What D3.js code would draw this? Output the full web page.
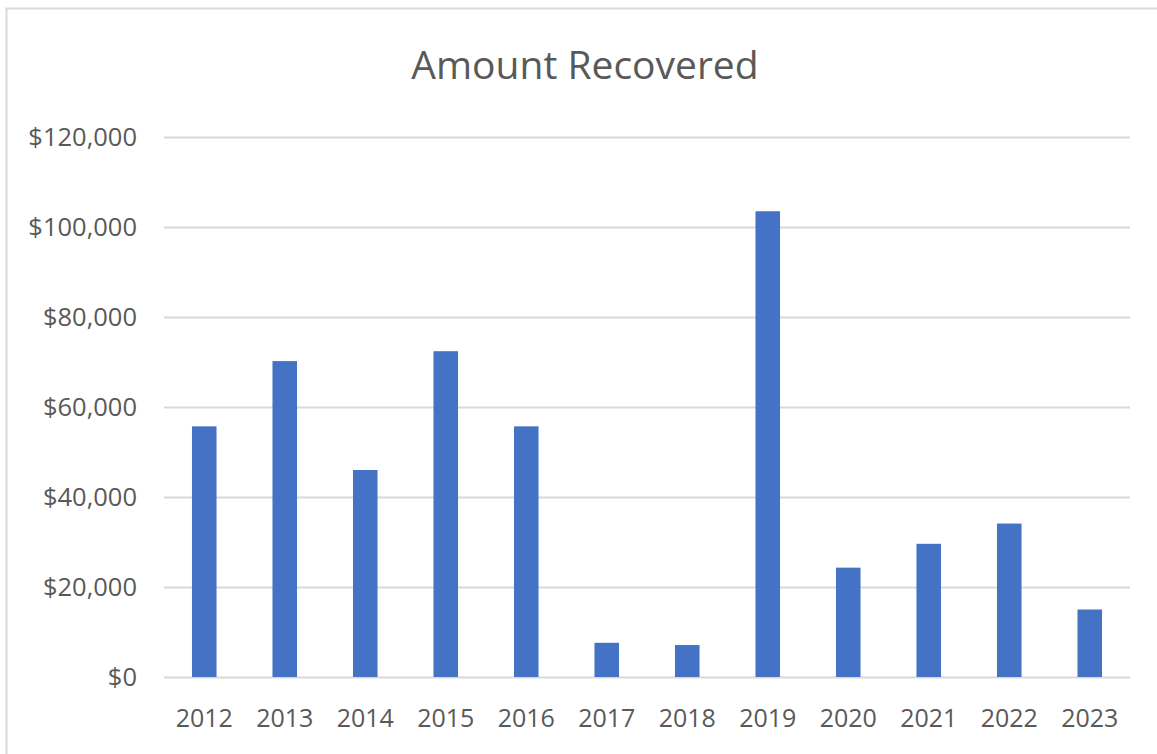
<!DOCTYPE html>
<html>
<head>
<meta charset="utf-8">
<script src="https://cdn.jsdelivr.net/npm/d3@7"></script>
<style>
  body { margin: 0; background: #fff; }
  text { font-family: "Open Sans", sans-serif; fill: #595959; }
</style>
</head>
<body>
<div id="chart"></div>
<script>
// chart data
let years = ["2012", "2013", "2014", "2015", "2016", "2017", "2018", "2019", "2020", "2021", "2022", "2023"]
let amounts = [55700, 70200, 46000, 72400, 55700, 7600, 7100, 103500, 24300, 29600, 34100, 15000]
let yTicks = [0, 20000, 40000, 60000, 80000, 100000, 120000]
let chartTitle = "Amount Recovered"

let W = 1157, H = 754
let margin = { top: 137, right: 27, bottom: 77, left: 164 },
    width = W - margin.left - margin.right,
    height = H - margin.top - margin.bottom

let root = d3.select("#chart")
    .append("svg")
    .attr("width", W)
    .attr("height", H)

// outer chart border
root.append("rect")
    .attr("x", 6.5)
    .attr("y", 8.5)
    .attr("width", W + 10)
    .attr("height", H + 10)
    .attr("fill", "none")
    .attr("stroke", "#d9d9d9")
    .attr("stroke-width", 2)

root.append("text")
    .attr("x", 585)
    .attr("y", 79)
    .attr("text-anchor", "middle")
    .style("font-size", "39px")
    .text(chartTitle)

let svg = root.append("g")
    .attr("transform", "translate(" + margin.left + "," + margin.top + ")")

let x = d3.scaleBand()
    .domain(years)
    .range([0, width])
    .paddingInner(0.695)
    .paddingOuter(0.3475)

let y = d3.scaleLinear()
    .domain([0, 120000])
    .range([height, 0])

// gridlines + y labels
let yAxis = svg.append("g")
    .call(d3.axisLeft(y)
        .tickValues(yTicks)
        .tickSize(-width)
        .tickPadding(27)
        .tickFormat((d) => "$" + d3.format(",")(d)))
yAxis.select(".domain").remove()
yAxis.selectAll("line")
    .attr("stroke", "#d9d9d9")
    .attr("stroke-width", 2)
yAxis.selectAll("text")
    .style("font-size", "25.5px")
    .style("font-family", "'Open Sans', sans-serif")
    .attr("fill", "#595959")

// bars
svg.selectAll("myBars")
    .data(years)
    .enter()
    .append("rect")
    .attr("x", (d) => x(d))
    .attr("y", (d, i) => y(amounts[i]))
    .attr("width", x.bandwidth())
    .attr("height", (d, i) => height - y(amounts[i]))
    .attr("fill", "#4472c4")

// x labels
let xAxis = svg.append("g")
    .attr("transform", "translate(0," + height + ")")
    .call(d3.axisBottom(x).tickSize(0).tickPadding(32))
xAxis.select(".domain").remove()
xAxis.selectAll("text")
    .style("font-size", "25px")
    .style("font-family", "'Open Sans', sans-serif")
    .attr("fill", "#595959")
</script>
</body>
</html>
